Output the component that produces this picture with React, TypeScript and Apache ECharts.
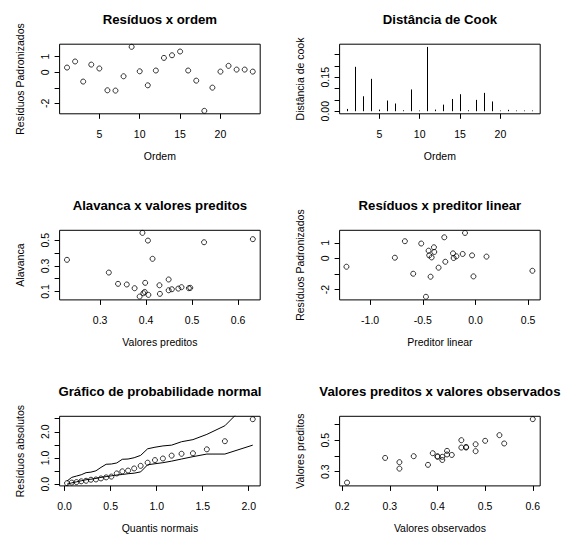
import React, { useEffect, useRef } from "react";
import * as echarts from "echarts";

// ---------- data ----------
const ordem = [1, 2, 3, 4, 5, 6, 7, 8, 9, 10, 11, 12, 13, 14, 15, 16, 17, 18, 19, 20, 21, 22, 23, 24];
const residuosOrdem = [0.30, 0.69, -0.60, 0.49, 0.24, -1.16, -1.18, -0.26, 1.63, 0.06, -0.84, 0.11, 0.92, 1.09, 1.33, 0.11, -0.54, -2.48, -0.99, 0.04, 0.41, 0.17, 0.17, 0.04];
const cook = [0.010, 0.196, 0.066, 0.143, 0.007, 0.047, 0.034, 0.004, 0.096, 0.003, 0.284, 0.007, 0.029, 0.054, 0.075, 0.004, 0.050, 0.081, 0.043, 0.003, 0.006, 0.003, 0.003, 0.003];

const preditosAlav = [0.228, 0.319, 0.339, 0.358, 0.375, 0.392, 0.386, 0.394, 0.397, 0.398, 0.404, 0.405, 0.414, 0.429, 0.430, 0.449, 0.449, 0.456, 0.470, 0.477, 0.493, 0.496, 0.526, 0.632];
const alavanca = [0.347, 0.248, 0.160, 0.155, 0.126, 0.557, 0.061, 0.087, 0.097, 0.168, 0.497, 0.074, 0.355, 0.149, 0.082, 0.194, 0.110, 0.118, 0.123, 0.134, 0.126, 0.129, 0.484, 0.508];

const preditorLinear = [-1.225, -0.765, -0.670, -0.591, -0.515, -0.470, -0.445, -0.439, -0.426, -0.416, -0.394, -0.391, -0.350, -0.296, -0.286, -0.213, -0.207, -0.181, -0.121, -0.099, -0.032, -0.019, 0.105, 0.541];
const residuosPL = [-0.54, 0.04, 1.10, -0.99, 0.95, -2.47, 0.49, 0.19, -1.18, 0.06, 0.71, 0.41, -0.60, 1.35, -0.22, 0.32, 0.02, 0.13, 0.28, 1.63, 0.19, -1.16, 0.11, -0.80];

const quantis = [0.0256, 0.0768, 0.1283, 0.1800, 0.2326, 0.2856, 0.3398, 0.3945, 0.4508, 0.5078, 0.5660, 0.6262, 0.6892, 0.7554, 0.8258, 0.9016, 0.9813, 1.0676, 1.1626, 1.2702, 1.3941, 1.5453, 1.7412, 2.0442];
const residuosAbs = [0.04, 0.06, 0.08, 0.11, 0.13, 0.17, 0.18, 0.22, 0.26, 0.29, 0.41, 0.49, 0.52, 0.60, 0.70, 0.82, 0.92, 0.98, 1.09, 1.16, 1.18, 1.33, 1.64, 2.48];
const envelopeSup = [0.12, 0.26, 0.31, 0.36, 0.44, 0.46, 0.51, 0.64, 0.76, 0.77, 0.81, 0.95, 0.96, 1.01, 1.10, 1.35, 1.41, 1.46, 1.49, 1.62, 1.70, 1.90, 2.23, 3.30];
const envelopeInf = [0.00, 0.05, 0.09, 0.13, 0.17, 0.19, 0.22, 0.26, 0.29, 0.32, 0.35, 0.37, 0.40, 0.42, 0.47, 0.74, 0.78, 0.82, 0.88, 0.96, 1.05, 1.15, 1.15, 1.49];

const observados = [0.21, 0.29, 0.32, 0.32, 0.35, 0.38, 0.39, 0.40, 0.40, 0.41, 0.41, 0.42, 0.42, 0.43, 0.45, 0.45, 0.46, 0.46, 0.48, 0.48, 0.50, 0.53, 0.54, 0.60];
const preditosObs = [0.230, 0.387, 0.360, 0.319, 0.398, 0.343, 0.417, 0.398, 0.394, 0.394, 0.374, 0.432, 0.409, 0.406, 0.500, 0.453, 0.457, 0.453, 0.474, 0.430, 0.496, 0.532, 0.479, 0.634];

const titulos = [
  "Resíduos x ordem",
  "Distância de Cook",
  "Alavanca x valores preditos",
  "Resíduos x preditor linear",
  "Gráfico de probabilidade normal",
  "Valores preditos x valores observados",
];
const xNomes = ["Ordem", "Ordem", "Valores preditos", "Preditor linear", "Quantis normais", "Valores observados"];
const yNomes = ["Resíduos Padronizados", "Distância de cook", "Alavanca", "Resíduos Padronizados", "Resíduos absolutos", "Valores preditos"];

// tick values / labels
const xTicks = [[5, 10, 15, 20], [5, 10, 15, 20], [0.3, 0.4, 0.5, 0.6], [-1.0, -0.5, 0.0, 0.5], [0.0, 0.5, 1.0, 1.5, 2.0], [0.2, 0.3, 0.4, 0.5, 0.6]];
const xLabels = xTicks;
const xDec = [0, 0, 1, 1, 1, 1];
const yTicks = [[-2, -1, 0, 1], [0, 0.05, 0.10, 0.15, 0.20, 0.25], [0.1, 0.2, 0.3, 0.4, 0.5], [-2, -1, 0, 1], [0, 0.5, 1.0, 1.5, 2.0, 2.5], [0.3, 0.4, 0.5, 0.6]];
const yLabels = [[-2, 0, 1], [0, 0.15], [0.1, 0.3, 0.5], [-2, 0, 1], [0, 1.0, 2.0], [0.3, 0.5]];
const yDec = [0, 2, 1, 0, 1, 1];

// axis ranges (plot region)
const xMin = [0.08, 0.08, 0.212, -1.29, -0.055, 0.1944];
const xMax = [24.92, 24.92, 0.648, 0.615, 2.125, 0.6156];
const yMin = [-2.67, -0.0115, 0.035, -2.67, -0.065, 0.209];
const yMax = [1.80, 0.296, 0.577, 1.80, 2.59, 0.652];

const FONT = "'Liberation Sans', Arial, Helvetica, sans-serif";

export default function App() {
  const ref = useRef<HTMLDivElement>(null);

  useEffect(() => {
    if (!ref.current) return;
    const chart = echarts.init(ref.current, undefined, { renderer: "svg" });

    const colLeft = [59.6, 339.6];
    const rowTop = [44.2, 230.3, 416.3];
    const W = 200.6;
    const H = 69.6;

    const grids: any[] = [];
    const xAxes: any[] = [];
    const yAxes: any[] = [];
    const graphics: any[] = [];

    for (let i = 0; i < 6; i++) {
      const c = i % 2;
      const r = Math.floor(i / 2);
      grids.push({
        left: colLeft[c],
        top: rowTop[r],
        width: W,
        height: H,
        show: true,
        borderColor: "#000",
        borderWidth: 1,
        backgroundColor: "transparent",
        containLabel: false,
      });
      xAxes.push({
        type: "value",
        gridIndex: i,
        position: "bottom",
        min: xMin[i],
        max: xMax[i],
        axisLine: { show: false, onZero: false },
        splitLine: { show: false },
        axisTick: { show: true, length: 5, lineStyle: { color: "#000", width: 1 }, customValues: xTicks[i] },
        axisLabel: {
          customValues: xLabels[i],
          formatter: (v: number) => v.toFixed(xDec[i]),
          fontSize: 10.5,
          color: "#000",
          fontFamily: FONT,
          margin: 15,
        },
        name: xNomes[i],
        nameLocation: "middle",
        nameGap: 37,
        nameTextStyle: { fontSize: 10.5, color: "#000", fontFamily: FONT },
      });
      yAxes.push({
        type: "value",
        gridIndex: i,
        position: "left",
        min: yMin[i],
        max: yMax[i],
        axisLine: { show: false, onZero: false },
        splitLine: { show: false },
        axisTick: { show: true, length: 5, lineStyle: { color: "#000", width: 1 }, customValues: yTicks[i] },
        axisLabel: {
          customValues: yLabels[i],
          formatter: (v: number) => v.toFixed(yDec[i]),
          fontSize: 10.5,
          color: "#000",
          fontFamily: FONT,
          rotate: 90,
          margin: 9,
        },
        name: yNomes[i],
        nameLocation: "middle",
        nameGap: 34,
        nameTextStyle: { fontSize: 10.5, color: "#000", fontFamily: FONT },
      });
      graphics.push({
        type: "text",
        x: colLeft[c] + W / 2,
        y: rowTop[r] - 25,
        style: {
          text: titulos[i],
          fontSize: 13.2,
          fontWeight: "bold",
          fontFamily: FONT,
          fill: "#000",
          align: "center",
          verticalAlign: "middle",
        },
      });
    }

    const pointStyle = {
      type: "scatter",
      symbol: "circle",
      symbolSize: 5,
      itemStyle: { color: "transparent", borderColor: "#000", borderWidth: 1 },
      silent: true,
    };

    const series: any[] = [
      { ...pointStyle, xAxisIndex: 0, yAxisIndex: 0, data: ordem.map((o, k) => [o, residuosOrdem[k]]) },
      {
        type: "custom",
        xAxisIndex: 1,
        yAxisIndex: 1,
        silent: true,
        data: ordem.map((o, k) => [o, cook[k]]),
        renderItem: (_p: any, api: any) => {
          const a = api.coord([api.value(0), 0]);
          const b = api.coord([api.value(0), api.value(1)]);
          const x = Math.round(a[0] - 0.5) + 0.5;
          return {
            type: "line",
            shape: { x1: x, y1: a[1], x2: x, y2: b[1] },
            style: { stroke: "#000", lineWidth: 1 },
          };
        },
      },
      { ...pointStyle, xAxisIndex: 2, yAxisIndex: 2, data: preditosAlav.map((p, k) => [p, alavanca[k]]) },
      { ...pointStyle, xAxisIndex: 3, yAxisIndex: 3, data: preditorLinear.map((p, k) => [p, residuosPL[k]]) },
      {
        type: "line",
        xAxisIndex: 4,
        yAxisIndex: 4,
        symbol: "none",
        silent: true,
        clip: true,
        lineStyle: { color: "#000", width: 1 },
        data: quantis.map((q, k) => [q, envelopeSup[k]]),
      },
      {
        type: "line",
        xAxisIndex: 4,
        yAxisIndex: 4,
        symbol: "none",
        silent: true,
        clip: true,
        lineStyle: { color: "#000", width: 1 },
        data: quantis.map((q, k) => [q, envelopeInf[k]]),
      },
      { ...pointStyle, xAxisIndex: 4, yAxisIndex: 4, data: quantis.map((q, k) => [q, residuosAbs[k]]) },
      { ...pointStyle, xAxisIndex: 5, yAxisIndex: 5, data: observados.map((o, k) => [o, preditosObs[k]]) },
    ];

    chart.setOption({
      animation: false,
      backgroundColor: "#fff",
      textStyle: { fontFamily: FONT },
      grid: grids,
      xAxis: xAxes,
      yAxis: yAxes,
      series,
      graphic: graphics,
    });

    return () => chart.dispose();
  }, []);

  return (
    <div
      ref={ref}
      style={{ position: "absolute", left: 0, top: 0, width: 561, height: 536 }}
    />
  );
}
